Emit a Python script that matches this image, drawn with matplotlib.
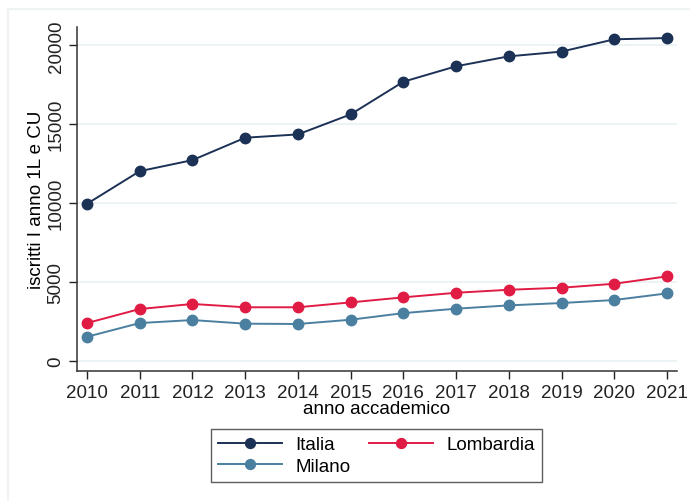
import matplotlib.pyplot as plt
from matplotlib.lines import Line2D

# ----------------- DATI -----------------
anni = [2010, 2011, 2012, 2013, 2014, 2015, 2016, 2017, 2018, 2019, 2020, 2021]
italia = [9950, 12020, 12720, 14140, 14350, 15620, 17690, 18670, 19300, 19600, 20380, 20460]
lombardia = [2390, 3280, 3600, 3390, 3390, 3700, 4020, 4310, 4500, 4630, 4880, 5350]
milano = [1520, 2390, 2580, 2350, 2330, 2600, 3020, 3300, 3510, 3660, 3850, 4270]

y_ticks = [0, 5000, 10000, 15000, 20000]

col_italia = "#1c3156"
col_lombardia = "#e01b44"
col_milano = "#4a7fa0"
col_grid = "#e9f1f3"

plt.rcParams['font.family'] = ['Liberation Sans', 'DejaVu Sans']
fs = 13.5

fig = plt.figure(figsize=(6.9, 5.02), dpi=100)
ax = fig.add_axes([77 / 690, 1 - 372 / 502, 600 / 690, 344 / 502])

# cornice esterna chiara (graph region)
fig.add_artist(Line2D([8 / 690, 8 / 690], [0, 1 - 10 / 502], transform=fig.transFigure,
                      color="#eef4f4", lw=1.5))
fig.add_artist(Line2D([8 / 690, 1], [1 - 10 / 502, 1 - 10 / 502], transform=fig.transFigure,
                      color="#eef4f4", lw=1.5))

ax.plot(anni, italia, color=col_italia, marker='o', markersize=7.5, lw=1.4, label="Italia")
ax.plot(anni, lombardia, color=col_lombardia, marker='o', markersize=7.5, lw=1.4, label="Lombardia")
ax.plot(anni, milano, color=col_milano, marker='o', markersize=7.5, lw=1.4, label="Milano")

ax.set_xlim(2009.81, 2021.19)
ax.set_ylim(-650, 21160)
ax.set_xticks(anni)
ax.set_yticks(y_ticks)
ax.set_yticklabels([str(v) for v in y_ticks], rotation=90, va='center')
ax.tick_params(axis='both', direction='out', length=6, width=1, labelsize=fs, colors='#222222')
ax.tick_params(axis='x', pad=3)
ax.tick_params(axis='y', pad=3)

ax.grid(axis='y', color=col_grid, lw=1.2)
ax.set_axisbelow(True)
for s in ['top', 'right']:
    ax.spines[s].set_visible(False)
for s in ['left', 'bottom']:
    ax.spines[s].set_color('#333333')
    ax.spines[s].set_linewidth(1.1)

ax.set_xlabel("anno accademico", fontsize=fs, labelpad=0)
ax.set_ylabel("iscritti I anno 1L e CU", fontsize=fs, labelpad=2)

handles, labels = ax.get_legend_handles_labels()
order = [0, 2, 1]
leg = fig.legend([handles[i] for i in order], [labels[i] for i in order], ncol=2,
                 loc='center', bbox_to_anchor=(376.5 / 690, 1 - 456.5 / 502),
                 fontsize=fs, frameon=True, fancybox=False, edgecolor='#333333',
                 handlelength=3.4, handletextpad=0.7, columnspacing=1.0,
                 borderpad=0.4, labelspacing=0.25, markerscale=0.95)
leg.get_frame().set_linewidth(1.0)

fig.savefig("out.png", dpi=100)
